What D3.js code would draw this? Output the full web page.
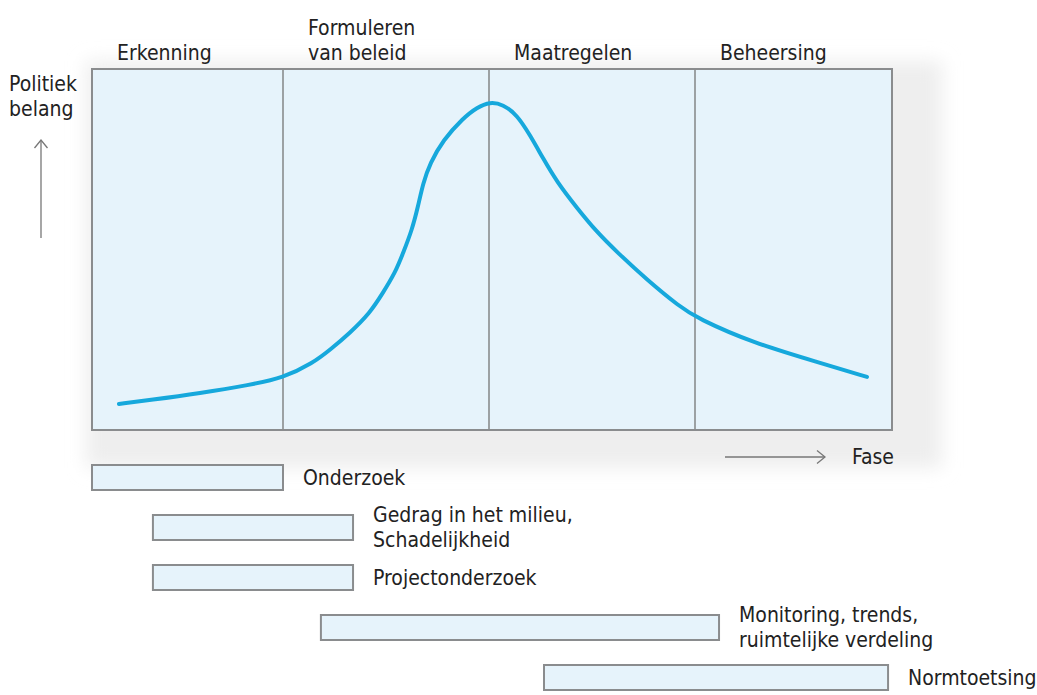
<!DOCTYPE html>
<html>
<head>
<meta charset="utf-8">
<script src="https://cdn.jsdelivr.net/npm/d3@7"></script>
<style>
  body { margin: 0; background: #fff; }
  text { font-family: "DejaVu Sans Condensed", "DejaVu Sans", sans-serif; fill: #222; }
</style>
</head>
<body>
<div id="chart"></div>
<script>
// phases along the x axis
const phases = [["Erkenning"], ["Formuleren", "van beleid"], ["Maatregelen"], ["Beheersing"]];

// political interest curve: phase position (0..4) and interest (0..100)
const curvePhase = [0.141, 0.304, 0.565, 0.827, 1.0, 1.146, 1.228, 1.325, 1.422, 1.485, 1.544, 1.583,
  1.626, 1.655, 1.68, 1.714, 1.777, 1.874, 1.942, 2.005, 2.068, 2.136, 2.199, 2.262, 2.33, 2.427,
  2.524, 2.621, 2.767, 2.927, 3.01, 3.294, 3.635, 3.873];
const curveInterest = [7.2, 8.3, 10.2, 12.5, 14.4, 18.6, 22.2, 26.9, 32.4, 38.0, 43.5, 49.0,
  55.4, 61.8, 68.4, 73.9, 80.3, 86.4, 89.4, 90.9, 90.2, 87.3, 81.7, 75.3, 68.7, 61.5,
  54.8, 49.3, 41.6, 34.1, 31.0, 24.1, 18.6, 14.7];

// research activities: label lines, start and end in phase units
const activities = [
  ["Onderzoek"],
  ["Gedrag in het milieu,", "Schadelijkheid"],
  ["Projectonderzoek"],
  ["Monitoring, trends,", "ruimtelijke verdeling"],
  ["Normtoetsing"]
];
const activityStart = [0, 0.319, 0.319, 1.184, 2.267];
const activityEnd = [1.0, 1.34, 1.34, 3.122, 3.98];

const yLabel = ["Politiek", "belang"];
const xLabel = "Fase";

const width = 1037, height = 695;
const box = { left: 92, right: 892, top: 69, bottom: 430 };
const lineColor = "#8a8c8e";
const fillColor = "#e6f3fb";
const fontSize = 21;

const svg = d3.select("#chart").append("svg")
  .attr("width", width).attr("height", height)
  .attr("viewBox", [0, 0, width, height]);

// the four phases are not equally wide in the source drawing
const x = d3.scaleLinear().domain([0, 1, 2, 3, 4]).range([box.left, 283, 489, 695, box.right]);
const y = d3.scaleLinear().domain([0, 100]).range([box.bottom, box.top]);

const defs = svg.append("defs");
defs.append("filter").attr("id", "soft").attr("x", "-20%").attr("y", "-20%").attr("width", "140%").attr("height", "140%")
  .append("feGaussianBlur").attr("stdDeviation", 9);
defs.append("marker").attr("id", "head").attr("viewBox", "0 0 10 16")
  .attr("refX", 9).attr("refY", 8).attr("markerWidth", 10).attr("markerHeight", 16)
  .attr("markerUnits", "userSpaceOnUse").attr("orient", "auto")
  .append("path").attr("d", "M1,1.5 L9,8 L1,14.5").attr("fill", "none")
  .attr("stroke", "#777").attr("stroke-width", 1.3);

// soft shadow behind the panel
svg.append("rect")
  .attr("x", box.left - 6).attr("y", box.top - 8)
  .attr("width", box.right - box.left + 56).attr("height", box.bottom - box.top + 46)
  .attr("fill", "#eeeeee").attr("filter", "url(#soft)");

svg.append("rect")
  .attr("x", box.left).attr("y", box.top)
  .attr("width", box.right - box.left).attr("height", box.bottom - box.top)
  .attr("fill", fillColor).attr("stroke", lineColor).attr("stroke-width", 2);

// phase dividers
svg.append("g").selectAll("line")
  .data(d3.range(1, phases.length))
  .join("line")
  .attr("x1", (d) => x(d)).attr("x2", (d) => x(d))
  .attr("y1", box.top).attr("y2", box.bottom)
  .attr("stroke", lineColor).attr("stroke-width", 1.6);

// phase headings, set a little in from each phase start
svg.append("g").selectAll("text")
  .data(phases)
  .join("text")
  .attr("x", (d, i) => x(i) + 25)
  .attr("font-size", fontSize)
  .each(function (lines) {
    const t = d3.select(this);
    lines.forEach((line, j) => {
      t.append("tspan").attr("x", +t.attr("x"))
        .attr("y", 60 - (lines.length - 1 - j) * 25).text(line);
    });
  });

// curve (B-spline smooths out the reading error in the traced points)
const points = curvePhase.map((p, i) => [p, curveInterest[i]]);
svg.append("path")
  .datum(points)
  .attr("fill", "none")
  .attr("stroke", "#16a8dc")
  .attr("stroke-width", 4)
  .attr("stroke-linecap", "round")
  .attr("d", d3.line().x((d) => x(d[0])).y((d) => y(d[1])).curve(d3.curveBasis));

// y axis label and arrow
svg.append("text").attr("font-size", fontSize)
  .selectAll("tspan").data(yLabel).join("tspan")
  .attr("x", 9).attr("y", (d, i) => 91 + i * 25).text((d) => d);
svg.append("line")
  .attr("x1", 41).attr("x2", 41).attr("y1", 238).attr("y2", 140)
  .attr("stroke", "#777").attr("stroke-width", 1.3)
  .attr("marker-end", "url(#head)");

// x axis label and arrow
svg.append("line")
  .attr("x1", 725).attr("x2", 825).attr("y1", 457).attr("y2", 457)
  .attr("stroke", "#777").attr("stroke-width", 1.3)
  .attr("marker-end", "url(#head)");
svg.append("text").attr("font-size", fontSize)
  .attr("x", 852).attr("y", 457).attr("dominant-baseline", "central").text(xLabel);

// activity bars
const rows = d3.scaleBand()
  .domain(d3.range(activities.length))
  .range([452.5, 702.5])
  .paddingInner(0.5).paddingOuter(0.25);

svg.append("g").selectAll("rect")
  .data(activities)
  .join("rect")
  .attr("x", (d, i) => x(activityStart[i]))
  .attr("y", (d, i) => rows(i))
  .attr("width", (d, i) => x(activityEnd[i]) - x(activityStart[i]))
  .attr("height", rows.bandwidth())
  .attr("fill", fillColor).attr("stroke", lineColor).attr("stroke-width", 2);

svg.append("g").selectAll("text")
  .data(activities)
  .join("text")
  .attr("font-size", fontSize)
  .attr("dominant-baseline", "central")
  .each(function (lines, i) {
    const t = d3.select(this);
    const cx = x(activityEnd[i]) + 20;
    const cy = rows(i) + rows.bandwidth() / 2;
    lines.forEach((line, j) => {
      t.append("tspan").attr("x", cx)
        .attr("y", cy + (j - (lines.length - 1) / 2) * 25).text(line);
    });
  });
</script>
</body>
</html>
